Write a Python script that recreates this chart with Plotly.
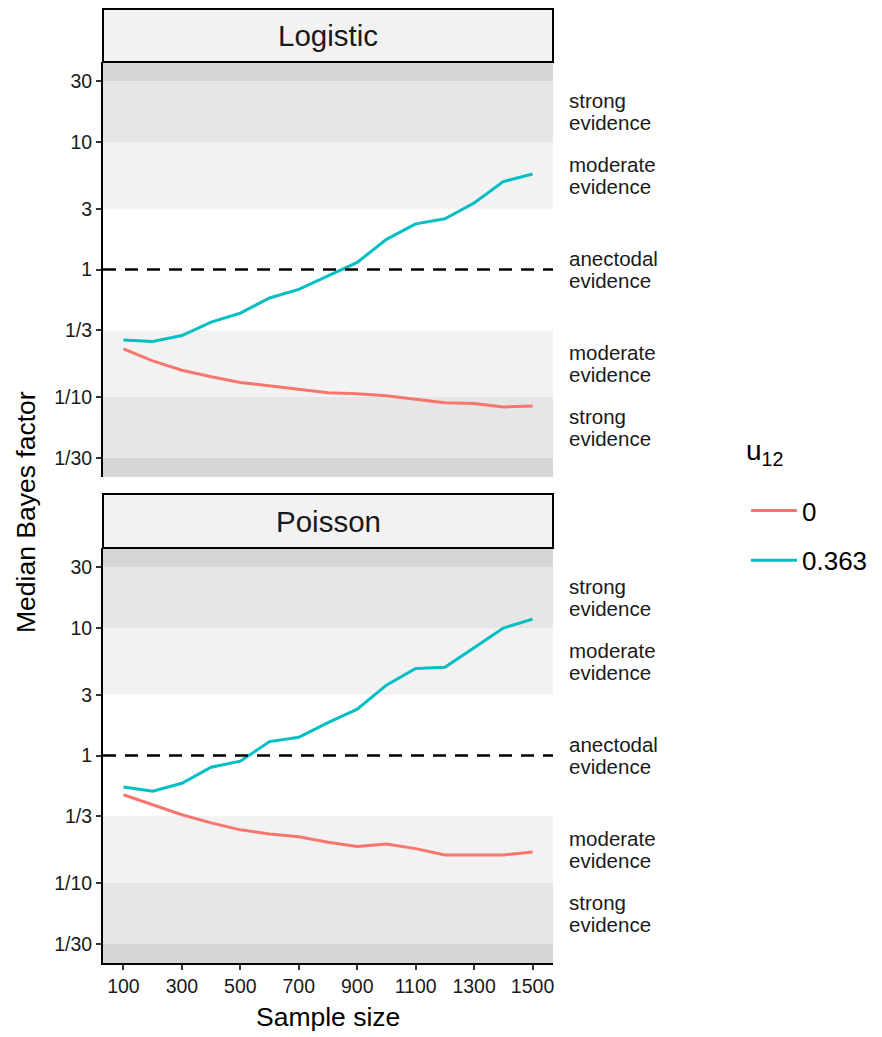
import numpy as np
import plotly.graph_objects as go

# ---------------- data ----------------
sample_size = [100, 200, 300, 400, 500, 600, 700, 800, 900, 1000, 1100, 1200, 1300, 1400, 1500]

logistic_u0 = [0.238, 0.192, 0.162, 0.144, 0.130, 0.122, 0.116, 0.108, 0.106, 0.102, 0.096, 0.090, 0.089, 0.0834, 0.0849]
logistic_u363 = [0.280, 0.272, 0.303, 0.386, 0.455, 0.598, 0.699, 0.891, 1.136, 1.725, 2.28, 2.50, 3.32, 4.89, 5.62]

poisson_u0 = [0.492, 0.408, 0.343, 0.296, 0.261, 0.242, 0.230, 0.209, 0.193, 0.202, 0.186, 0.166, 0.166, 0.166, 0.175]
poisson_u363 = [0.567, 0.525, 0.605, 0.809, 0.902, 1.286, 1.39, 1.81, 2.31, 3.56, 4.82, 4.92, 7.01, 10.0, 11.75]

series_names = ["0", "0.363"]
series_colors = ["#F8766D", "#00BFC4"]
panel_names = ["Logistic", "Poisson"]
legend_title = "u<sub>12</sub>"

y_tick_vals = [1/30, 1/10, 1/3, 1, 3, 10, 30]
y_tick_text = ["1/30", "1/10", "1/3", "1", "3", "10", "30"]
x_tick_vals = [100, 300, 500, 700, 900, 1100, 1300, 1500]

# evidence bands
band_lower = [None, 1/30, 1/10, 1/3, 3, 10, 30]
band_upper = [1/30, 1/10, 1/3, 3, 10, 30, None]
band_fill = ["#d6d6d6", "#e6e6e6", "#f2f2f2", "#ffffff", "#f2f2f2", "#e6e6e6", "#d6d6d6"]
band_label = [None, ("strong", "evidence"), ("moderate", "evidence"), ("anectodal", "evidence"),
              ("moderate", "evidence"), ("strong", "evidence"), None]

# ---------------- layout constants ----------------
# the page body has an 8px margin; positions below are given in window pixels
OFF = 8
W, H = 882 - OFF, 1037 - OFF
ML = 103 - OFF
MT = 0
PLOT_R = 553 - OFF
PLOT_B = 963 - OFF
MR = W - PLOT_R
MB = H - PLOT_B
PH = PLOT_B - MT
PW = PLOT_R - ML
def py(px):
    return (PLOT_B - (px - OFF)) / PH
def pxx(px):
    return (px - OFF - ML) / PW

YLOG = 1.628
top_dom = [py(477), py(62)]
bot_dom = [0, py(548)]
top_strip = [py(62), py(9)]
bot_strip = [py(548), py(494)]

FONT = "Liberation Sans, Arial, Helvetica, sans-serif"
TXT = "#1a1a1a"

fig = go.Figure()

panels = [
    ("x2", "y2", logistic_u0, logistic_u363, True),
    ("x", "y", poisson_u0, poisson_u363, False),
]
for xa, ya, u0, u363, show in panels:
    for name, col, vals in zip(series_names, series_colors, [u0, u363]):
        fig.add_trace(go.Scatter(
            x=sample_size, y=vals, mode="lines", name=name,
            line=dict(color=col, width=3),
            xaxis=xa, yaxis=ya, showlegend=show, legendgroup=name,
        ))

shapes = []
annotations = []
for ya, xd in [("y2", "x2 domain"), ("y", "x domain")]:
    for lo, hi, fc, lab in zip(band_lower, band_upper, band_fill, band_label):
        y0 = 10 ** -YLOG if lo is None else lo
        y1 = 10 ** YLOG if hi is None else hi
        if fc != "#ffffff":
            shapes.append(dict(type="rect", xref=xd, yref=ya, x0=0, x1=1, y0=y0, y1=y1,
                               fillcolor=fc, line=dict(width=0), layer="below"))
        if lab is not None:
            ymid = (np.log10(y0) + np.log10(y1)) / 2  # annotations on log axes use log10
            for word, shift in zip(lab, [11, -11]):
                annotations.append(dict(text=word, xref="paper", yref=ya,
                                        x=pxx(567), y=ymid, yshift=shift, xanchor="left",
                                        yanchor="middle", align="left", showarrow=False,
                                        font=dict(size=20.5, color=TXT, family=FONT)))
    # reference line at BF = 1
    shapes.append(dict(type="line", xref=xd, yref=ya, x0=0, x1=1, y0=1, y1=1,
                       line=dict(color="black", width=2.5, dash="13px,9px"), layer="above"))

# strips
for (s0, s1), name in zip([top_strip, bot_strip], panel_names):
    shapes.append(dict(type="rect", xref="paper", yref="paper", x0=0, x1=1, y0=s0, y1=s1,
                       fillcolor="#f2f2f2", line=dict(color="black", width=2)))
    annotations.append(dict(text=name, xref="paper", yref="paper", x=0.5, y=(s0 + s1) / 2,
                            xanchor="center", yanchor="middle", showarrow=False,
                            font=dict(size=29.5, color=TXT, family=FONT)))

annotations.append(dict(text="Median Bayes factor", xref="paper", yref="paper",
                        x=pxx(26), y=py(512), textangle=-90, xanchor="center",
                        yanchor="middle", showarrow=False,
                        font=dict(size=26.5, color="black", family=FONT)))
annotations.append(dict(text="Sample size", xref="paper", yref="paper",
                        x=pxx(328), y=py(1017), xanchor="center",
                        yanchor="middle", showarrow=False,
                        font=dict(size=26.5, color="black", family=FONT)))
# legend title
annotations.append(dict(text=legend_title, xref="paper", yref="paper",
                        x=pxx(744), y=py(452), xanchor="left",
                        yanchor="middle", showarrow=False,
                        font=dict(size=28, color="black", family=FONT)))

yax = dict(type="log", range=[-YLOG, YLOG], tickvals=y_tick_vals, ticktext=y_tick_text,
           showgrid=False, zeroline=False, showline=True, linecolor="black", linewidth=2,
           ticks="outside", ticklen=5, tickwidth=2, tickcolor="#333333",
           tickfont=dict(size=19.5, color=TXT, family=FONT))

fig.update_layout(
    width=W, height=H,
    margin=dict(l=ML, r=MR, t=MT, b=MB, autoexpand=False),
    paper_bgcolor="white", plot_bgcolor="white",
    font=dict(family=FONT),
    xaxis=dict(domain=[0, 1], anchor="y", range=[30, 1570], tickvals=x_tick_vals,
               showgrid=False, zeroline=False, showline=True, linecolor="black", linewidth=2,
               ticks="outside", ticklen=5, tickwidth=2, tickcolor="#333333",
               tickfont=dict(size=19.5, color=TXT, family=FONT)),
    xaxis2=dict(domain=[0, 1], anchor="y2", matches="x", showticklabels=False,
                showgrid=False, zeroline=False, showline=False, ticks=""),
    yaxis=dict(domain=bot_dom, anchor="x", **yax),
    yaxis2=dict(domain=top_dom, anchor="x2", **yax),
    shapes=shapes,
    annotations=annotations,
    legend=dict(x=pxx(746), y=py(487), xanchor="left", yanchor="top",
                font=dict(size=26, color="black", family=FONT),
                tracegroupgap=13, itemwidth=46, bgcolor="rgba(0,0,0,0)"),
)

fig.write_html("out.html")
